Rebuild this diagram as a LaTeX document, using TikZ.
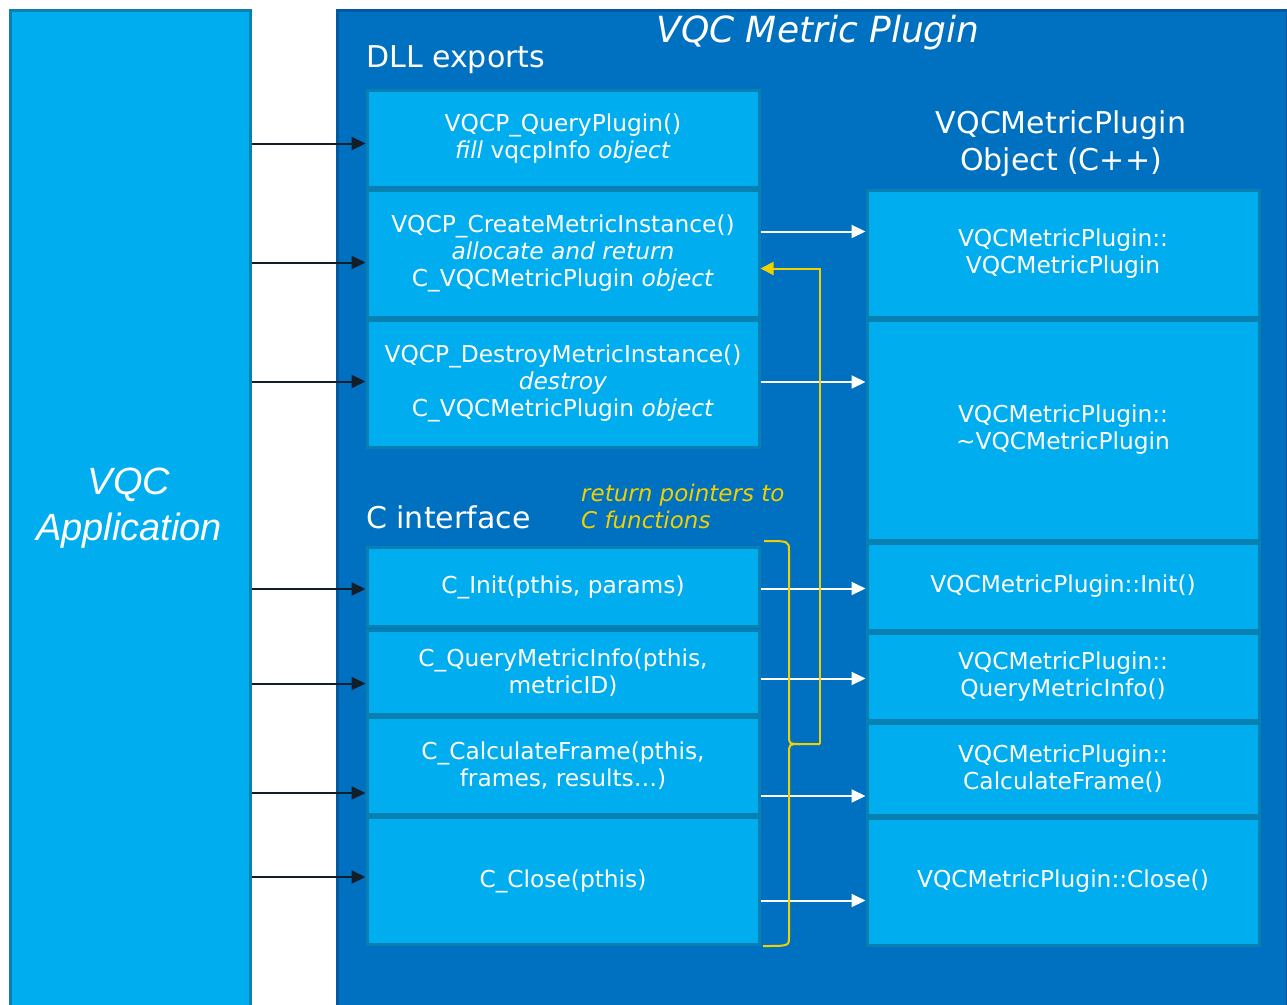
\documentclass[tikz,border=0pt]{standalone}
\usepackage{fontspec}
\setmainfont{DejaVu Sans}
\newfontfamily\appfont{Liberation Sans}
\usetikzlibrary{arrows.meta,calc}
\definecolor{cyanbox}{RGB}{0,174,239}
\definecolor{cyanedge}{RGB}{8,128,178}
\definecolor{plugfill}{RGB}{0,112,192}
\definecolor{plugedge}{RGB}{0,88,160}
\definecolor{yel}{RGB}{240,208,0}
\definecolor{arrowblk}{RGB}{20,30,40}
\tikzset{
  box/.style={draw=cyanedge, fill=cyanbox, line width=3pt, inner sep=0pt, anchor=north west,
    text=white, align=center, font=\fontsize{23.3}{27}\selectfont},
  lbox/.style={box, minimum width=392pt},
  heading/.style={text=white, inner sep=0pt, font=\fontsize{30}{37}\selectfont},
  blkarrow/.style={draw=arrowblk, line width=2pt, -{Triangle[length=14pt,width=13pt]}},
  whtarrow/.style={draw=white, line width=2pt, -{Triangle[length=14pt,width=13pt]}},
  yelarrow/.style={draw=yel, line width=2pt, -{Triangle[length=13pt,width=13pt]}},
  yelline/.style={draw=yel, line width=2pt},
}
\begin{document}
\begin{tikzpicture}[x=1pt,y=-1pt]
\useasboundingbox (0,0) rectangle (1287,1004);
\fill[white] (0,0) rectangle (1287,1004);

% main containers
\node[draw=cyanedge, fill=cyanbox, line width=3pt, inner sep=0pt, anchor=north west,
  minimum width=240pt, minimum height=1010pt] (app) at (8.5,8.5) {};
\node[text=white, align=center, font=\appfont\itshape\fontsize{38}{46}\selectfont] (apptxt) at (129,508) {VQC\\Application};

\node[draw=plugedge, fill=plugfill, line width=3pt, inner sep=0pt, anchor=north west,
  minimum width=950pt, minimum height=1010pt] (plug) at (335.5,8.5) {};
\node[text=white, inner sep=0pt, font=\fontsize{36}{40}\selectfont\itshape] (title) at (818,33) {VQC Metric Plugin};

\node[heading, anchor=west] (dll) at (366,60) {DLL exports};
\node[heading, anchor=west] (cif) at (366,517) {C interface};
\node[heading, align=center] (objh) at (1061,144) {VQCMetricPlugin\\Object (C++)};
\node[text=yel, inner sep=0pt, anchor=west, align=left, font=\fontsize{23}{27}\selectfont\itshape] (ret) at (581,506) {return pointers to\\C functions};

% left column
\node[lbox, minimum height=97pt]  (b1) at (365.5,88.5) {VQCP\_QueryPlugin()\\\textit{fill} vqcpInfo \textit{object}};
\node[lbox, minimum height=127pt] (b2) at (365.5,188.5) {VQCP\_CreateMetricInstance()\\\textit{allocate and return}\\C\_VQCMetricPlugin \textit{object}};
\node[lbox, minimum height=127pt] (b3) at (365.5,318.5) {VQCP\_DestroyMetricInstance()\\\textit{destroy}\\C\_VQCMetricPlugin \textit{object}};
\node[lbox, minimum height=79pt]  (b4) at (365.5,546) {C\_Init(pthis, params)};
\node[lbox, minimum height=84pt]  (b5) at (365.5,629) {C\_QueryMetricInfo(pthis,\\metricID)};
\node[lbox, minimum height=97pt]  (b6) at (365.5,716) {C\_CalculateFrame(pthis,\\frames, results…)};
\node[lbox, minimum height=127pt] (b7) at (365.5,816) {C\_Close(pthis)};

% right column
\node[lbox, minimum height=127pt] (r1) at (865.5,188.5) {VQCMetricPlugin::\\VQCMetricPlugin};
\node[lbox, minimum height=220pt] (r2) at (865.5,318.5) {VQCMetricPlugin::\\\textasciitilde VQCMetricPlugin};
\node[lbox, minimum height=87pt]  (r3) at (865.5,541.5) {VQCMetricPlugin::Init()};
\node[lbox, minimum height=87pt]  (r4) at (865.5,631.5) {VQCMetricPlugin::\\QueryMetricInfo()};
\node[lbox, minimum height=92pt]  (r5) at (865.5,721.5) {VQCMetricPlugin::\\CalculateFrame()};
\node[lbox, minimum height=127pt] (r6) at (865.5,816.5) {VQCMetricPlugin::Close()};

% black arrows: application -> C exports
\coordinate (p1) at ($(b1.west)+(0,5)$);
\coordinate (p2) at ($(b2.west)+(0,9)$);
\coordinate (p3) at ($(b3.west)+(0,-2)$);
\coordinate (p4) at ($(b4.west)+(0,2)$);
\coordinate (p5) at ($(b5.west)+(0,11)$);
\coordinate (p6) at ($(b6.west)+(0,27)$);
\coordinate (p7) at ($(b7.west)+(0,-4)$);
\foreach \p in {p1,p2,p3,p4,p5,p6,p7}
  \draw[blkarrow] (app.east |- \p) -- (\p);

% white arrows: C functions -> C++ methods
\coordinate (q1) at ($(r1.west)+(0,-22)$);
\coordinate (q2) at ($(r2.west)+(0,-48)$);
\coordinate (q3) at ($(r3.west)+(0,2)$);
\coordinate (q4) at ($(r4.west)+(0,2)$);
\coordinate (q5) at ($(r5.west)+(0,27)$);
\coordinate (q6) at ($(r6.west)+(0,19)$);
\draw[whtarrow] (b2.east |- q1) -- (q1);
\draw[whtarrow] (b3.east |- q2) -- (q2);
\draw[whtarrow] (b4.east |- q3) -- (q3);
\draw[whtarrow] (b5.east |- q4) -- (q4);
\draw[whtarrow] (b6.east |- q5) -- (q5);
\draw[whtarrow] (b7.east |- q6) -- (q6);

% yellow brace and return arrow
\coordinate (tip) at (820,744);
\draw[yelline] (764,541) .. controls (789,541) .. (789,551) -- (789,735)
  .. controls (789,744) .. (800,744) -- (tip);
\draw[yelline] (800,744) .. controls (789,744) .. (789,754) -- (789,937)
  .. controls (789,946) .. (763,946);
\coordinate (c2) at ($(b2.east)+(0,15)$);
\draw[yelarrow] (tip) -- (tip |- c2) -- (c2);
\end{tikzpicture}
\end{document}
